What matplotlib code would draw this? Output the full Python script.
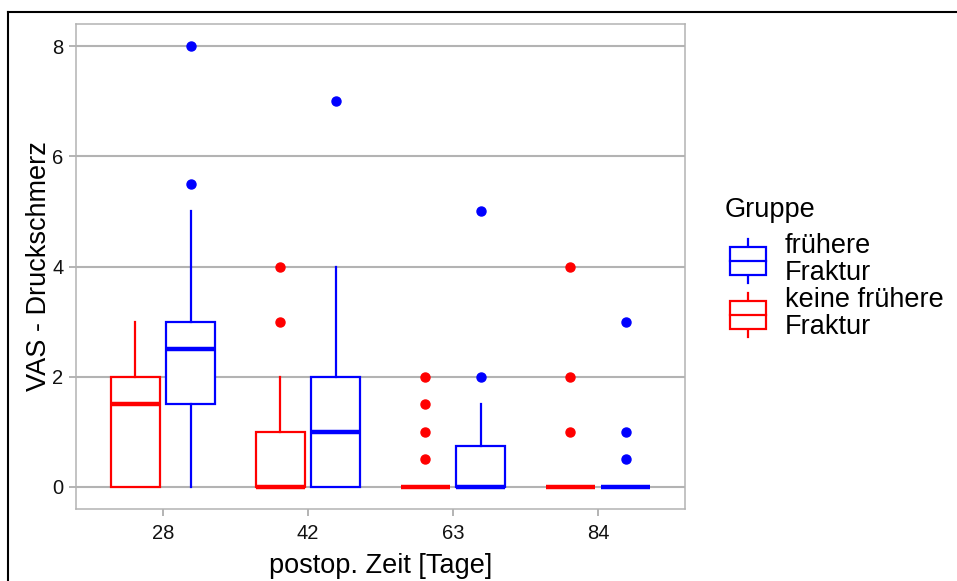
import matplotlib
matplotlib.use("Agg")
import matplotlib.pyplot as plt
from matplotlib.lines import Line2D
from matplotlib.patches import Rectangle
from matplotlib.legend_handler import HandlerBase

plt.rcParams['font.family'] = ['Liberation Sans', 'DejaVu Sans']

# ---- data ----
days = ["28", "42", "63", "84"]
groups = ["frühere\nFraktur", "keine frühere\nFraktur"]
colors = {"frühere\nFraktur": "#0000FF", "keine frühere\nFraktur": "#FF0000"}

# keine frühere Fraktur (red)
red_q1 = [0, 0, 0, 0]
red_med = [1.5, 0, 0, 0]
red_q3 = [2, 1, 0, 0]
red_lo = [0, 0, 0, 0]
red_hi = [3, 2, 0, 0]
red_out = [[], [3, 4], [0.5, 1, 1.5, 2], [1, 2, 4]]

# frühere Fraktur (blue)
blue_q1 = [1.5, 0, 0, 0]
blue_med = [2.5, 1, 0, 0]
blue_q3 = [3, 2, 0.75, 0]
blue_lo = [0, 0, 0, 0]
blue_hi = [5, 4, 1.5, 0]
blue_out = [[5.5, 8], [7], [2, 5], [0.5, 1, 3]]

y_ticks = [0, 2, 4, 6, 8]

W, H = 957, 581
fig = plt.figure(figsize=(W / 100, H / 100), dpi=100)
ax = fig.add_axes([76 / W, 1 - 509 / H, (685 - 76) / W, (509 - 24) / H])

grid_c = "#B3B3B3"
TITLE_FS = 19.5
TICK_FS = 14.5


def stats(q1, med, q3, lo, hi, out):
    return [dict(q1=a, med=b, q3=c, whislo=d, whishi=e, fliers=f)
            for a, b, c, d, e, f in zip(q1, med, q3, lo, hi, out)]


base = list(range(1, len(days) + 1))
offset = 0.19
bw = 0.34
for st, off, col in [
    (stats(red_q1, red_med, red_q3, red_lo, red_hi, red_out), -offset, colors[groups[1]]),
    (stats(blue_q1, blue_med, blue_q3, blue_lo, blue_hi, blue_out), offset, colors[groups[0]]),
]:
    ax.bxp(st, positions=[b + off for b in base], widths=bw, showcaps=False,
           patch_artist=True, manage_ticks=False,
           boxprops=dict(facecolor="white", edgecolor=col, linewidth=1.6),
           whiskerprops=dict(color=col, linewidth=1.6),
           medianprops=dict(color=col, linewidth=3.2, solid_capstyle="butt"),
           flierprops=dict(marker="o", markerfacecolor=col, markeredgecolor=col,
                           markersize=6.5, linestyle="none"),
           zorder=3)

ax.set_xlim(0.4, 4.6)
ax.set_ylim(-0.4, 8.4)
ax.set_xticks(base)
ax.set_xticklabels(days)
ax.set_yticks(y_ticks)
ax.set_yticklabels([str(v) for v in y_ticks])
ax.yaxis.grid(True, color=grid_c, linewidth=1.5, zorder=0)
ax.xaxis.grid(False)
ax.set_axisbelow(True)
for s in ax.spines.values():
    s.set_color(grid_c)
    s.set_linewidth(1.1)
ax.tick_params(axis="both", colors=grid_c, labelcolor="#111111", labelsize=TICK_FS,
               length=5, width=1.4, direction="out", pad=4)
ax.tick_params(axis="x", pad=6)
ax.set_xlabel("postop. Zeit [Tage]", fontsize=TITLE_FS, color="black", labelpad=7)
ax.set_ylabel("VAS - Druckschmerz", fontsize=TITLE_FS, color="black", labelpad=0)


class BoxHandler(HandlerBase):
    def create_artists(self, legend, orig_handle, xdescent, ydescent, width, height,
                       fontsize, trans):
        col = orig_handle.get_color()
        cx = -xdescent + width / 2
        y0 = -ydescent
        bot = y0 + height * 0.18
        top = y0 + height * 0.82
        mid = y0 + height * 0.5
        arts = [
            Line2D([cx, cx], [y0, bot], color=col, lw=1.6, transform=trans),
            Line2D([cx, cx], [top, y0 + height], color=col, lw=1.6, transform=trans),
            Rectangle((-xdescent, bot), width, top - bot, facecolor="white",
                      edgecolor=col, lw=1.6, transform=trans),
            Line2D([-xdescent, -xdescent + width], [mid, mid], color=col, lw=1.6,
                   transform=trans),
        ]
        return arts


fig.text(725 / W, 1 - 210 / H, "Gruppe", fontsize=TITLE_FS, ha="left", va="center")

handles = [Line2D([], [], color=colors[g]) for g in groups]
leg = fig.legend(handles, groups, handler_map={Line2D: BoxHandler()},
                 loc="upper left", bbox_to_anchor=(730 / W, 1 - 233 / H),
                 frameon=False, fontsize=TITLE_FS,
                 handlelength=1.33, handleheight=2.15, handletextpad=0.7,
                 labelspacing=0.05, borderaxespad=0, borderpad=0)
for t in leg.get_texts():
    t.set_linespacing(1.03)

# outer black frame (cropped: only top and left visible)
fig.add_artist(Line2D([8 / W, 1], [1 - 11.5 / H, 1 - 11.5 / H], color="black",
                      lw=1.5, transform=fig.transFigure))
fig.add_artist(Line2D([8 / W, 8 / W], [0, 1 - 11.5 / H], color="black",
                      lw=1.5, transform=fig.transFigure))

fig.savefig("out.png", dpi=100)
